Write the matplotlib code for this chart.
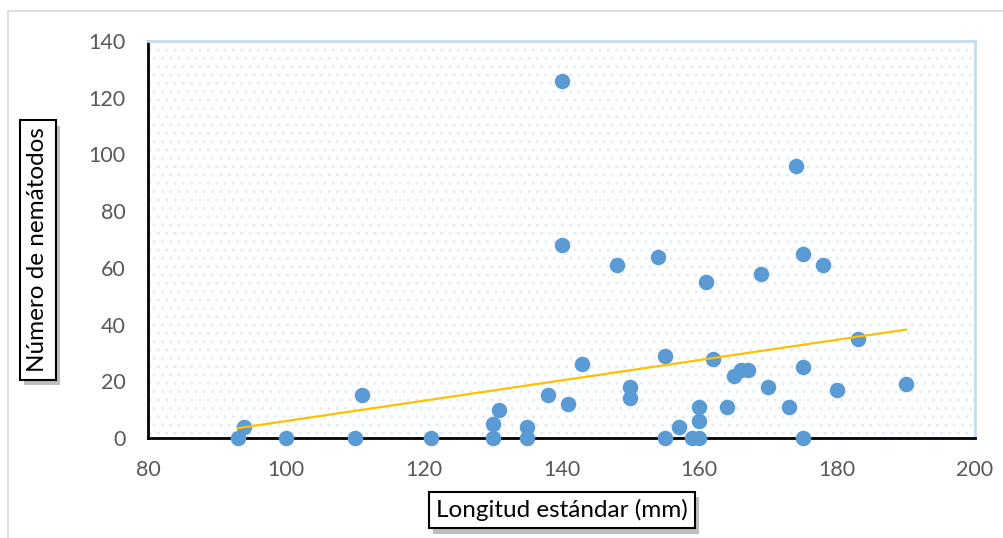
import numpy as np
import matplotlib
matplotlib.use("Agg")
import matplotlib.pyplot as plt
from matplotlib.patches import Rectangle
import matplotlib.patheffects as pe

longitud = [93, 94, 100, 110, 111, 121, 130, 130, 131, 135, 135, 138, 140, 140, 141, 143,
            148, 150, 150, 154, 155, 155, 157, 159, 160, 160, 160, 161, 162, 164, 165, 166,
            167, 169, 170, 173, 174, 175, 175, 175, 178, 180, 183, 190]
nematodos = [0, 4, 0, 0, 15, 0, 0, 5, 10, 0, 4, 15, 126, 68, 12, 26,
             61, 18, 14, 64, 29, 0, 4, 0, 0, 6, 11, 55, 28, 11, 22, 24,
             24, 58, 18, 11, 96, 65, 25, 0, 61, 17, 35, 19]
x_ticks = [80, 100, 120, 140, 160, 180, 200]
y_ticks = [0, 20, 40, 60, 80, 100, 120, 140]
xlabel = "Longitud estándar (mm)"
ylabel = "Número de nemátodos"

plt.rcParams['font.family'] = ['Lato', 'DejaVu Sans']

fig = plt.figure(figsize=(10.04, 5.38), dpi=100)
fig.patches.append(Rectangle((8/1004, -0.1), 1.2, 1 - 11/538 + 0.1, transform=fig.transFigure,
                             fill=False, edgecolor='#d9d9d9', lw=1.2))
ax = fig.add_axes([148/1004, 1 - 438/538, (975-148)/1004, (438-41)/538])
ax.set_xlim(80, 200)
ax.set_ylim(0, 140)

ax.add_patch(Rectangle((0, 0), 1, 1, transform=ax.transAxes, facecolor='none',
                       hatch='..', edgecolor='#e2edf8', lw=0, zorder=0))

ax.scatter(longitud, nematodos, s=125, color='#5B9BD5', zorder=3, linewidths=0, clip_on=False)

coef = np.polyfit(longitud, nematodos, 1)
xs = np.array([min(longitud), max(longitud)])
ax.plot(xs, np.polyval(coef, xs), color='#FFC000', lw=1.6, zorder=4)

ax.set_xticks(x_ticks)
ax.set_yticks(y_ticks)
ax.tick_params(length=0, labelsize=15.5, labelcolor='#595959')
ax.tick_params(axis='x', pad=16)
ax.tick_params(axis='y', pad=16)
for s in ['top', 'right']:
    ax.spines[s].set_color('#c5dcf0')
    ax.spines[s].set_linewidth(2)
for s in ['left', 'bottom']:
    ax.spines[s].set_color('black')
    ax.spines[s].set_linewidth(2)

shadow = [pe.withSimplePatchShadow(offset=(3, -4), shadow_rgbFace='#7f7f7f', alpha=0.5)]
t1 = fig.text(562/1004, 1 - 510/538, xlabel, ha='center', va='center', fontsize=17.5,
              bbox=dict(boxstyle='square,pad=0.3', fc='white', ec='black', lw=1.5))
t2 = fig.text(38/1004, 1 - 250/538, ylabel, ha='center', va='center', fontsize=17.5,
              rotation=90,
              bbox=dict(boxstyle='square,pad=0.3', fc='white', ec='black', lw=1.5))
for t in (t1, t2):
    t.get_bbox_patch().set_path_effects(shadow)

fig.savefig('out.png', dpi=100)
